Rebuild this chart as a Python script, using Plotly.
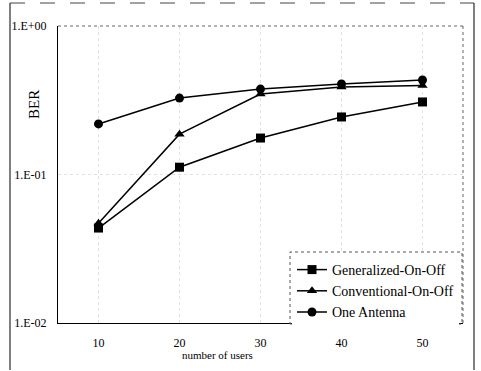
import plotly.graph_objects as go

# Number of users and BER per scheme
users = [10, 20, 30, 40, 50]
ber_generalized = [0.0436, 0.112, 0.176, 0.244, 0.308]
ber_conventional = [0.047, 0.187, 0.348, 0.389, 0.397]
ber_one_antenna = [0.219, 0.327, 0.376, 0.407, 0.433]

series_names = ["Generalized-On-Off", "Conventional-On-Off", "One Antenna"]
y_tick_vals = [1, 0.1, 0.01]
y_tick_text = ["1.E+00", "1.E-01", "1.E-02"]

W, H = 481, 371
L, R, T, B = 58, 18, 26, 48
pw, ph = W - L - R, H - T - B

def px(x):
    return (x - L) / pw

def py(y):
    return (H - B - y) / ph

SERIF = "Liberation Serif"
font = dict(family=SERIF, color="black", size=12)

fig = go.Figure()
for name, vals, sym in zip(series_names,
                           [ber_generalized, ber_conventional, ber_one_antenna],
                           ["square", "triangle-up", "circle"]):
    fig.add_trace(go.Scatter(
        x=users, y=vals, name=name, mode="lines+markers",
        line=dict(color="black", width=1.5),
        marker=dict(symbol=sym, size=9, color="black"),
    ))

fig.update_layout(
    width=W, height=H,
    margin=dict(l=L, r=R, t=T, b=B),
    paper_bgcolor="white", plot_bgcolor="white",
    font=font,
    showlegend=True,
    legend=dict(
        x=px(292), y=py(254), xanchor="left", yanchor="top",
        bgcolor="white", borderwidth=0,
        font=dict(family=SERIF, size=14, color="black"),
        tracegroupgap=0, itemwidth=30,
    ),
    xaxis=dict(
        range=[5, 55], tickvals=users, ticks="", automargin=False,
        showgrid=True, gridcolor="#e2e2e2", griddash="dot", gridwidth=1,
        showline=True, linecolor="black", linewidth=1, mirror=False,
        zeroline=False, ticklabelstandoff=9,
        tickfont=dict(family=SERIF, size=12),
    ),
    yaxis=dict(
        type="log", range=[-2, 0], automargin=False,
        tickvals=y_tick_vals, ticktext=y_tick_text, ticks="",
        showgrid=True, gridcolor="#e2e2e2", griddash="dot", gridwidth=1,
        showline=True, linecolor="black", linewidth=1,
        zeroline=False, ticklabelstandoff=8,
        tickfont=dict(family=SERIF, size=12),
    ),
    annotations=[
        dict(text="BER", xref="paper", yref="paper", x=px(34), y=py(105),
             xanchor="center", yanchor="middle", textangle=-90, showarrow=False,
             font=dict(family=SERIF, size=15, color="black")),
        dict(text="number of users", xref="paper", yref="paper", x=px(217), y=py(355),
             xanchor="center", yanchor="middle", showarrow=False,
             font=dict(family=SERIF, size=11, color="black")),
    ],
    shapes=[
        # plot frame on top and right
        dict(type="line", xref="paper", yref="paper", x0=0, x1=1, y0=1, y1=1,
             line=dict(color="#666666", width=1, dash="dot")),
        dict(type="line", xref="paper", yref="paper", x0=1, x1=1, y0=0, y1=1,
             line=dict(color="#666666", width=1, dash="dot")),
        # outer chart border
        dict(type="line", xref="paper", yref="paper", x0=px(10), x1=px(10), y0=py(370), y1=py(3),
             line=dict(color="black", width=1)),
        dict(type="line", xref="paper", yref="paper", x0=px(10), x1=px(474), y0=py(3), y1=py(3),
             line=dict(color="#444444", width=1, dash="longdash")),
        dict(type="line", xref="paper", yref="paper", x0=px(474), x1=px(474), y0=py(3), y1=py(370),
             line=dict(color="black", width=1)),
        # legend border
        dict(type="rect", xref="paper", yref="paper", x0=px(290), x1=px(462), y0=py(324), y1=py(252),
             line=dict(color="#555555", width=1, dash="dot"), layer="above"),
    ],
)

fig.write_html("out.html")
